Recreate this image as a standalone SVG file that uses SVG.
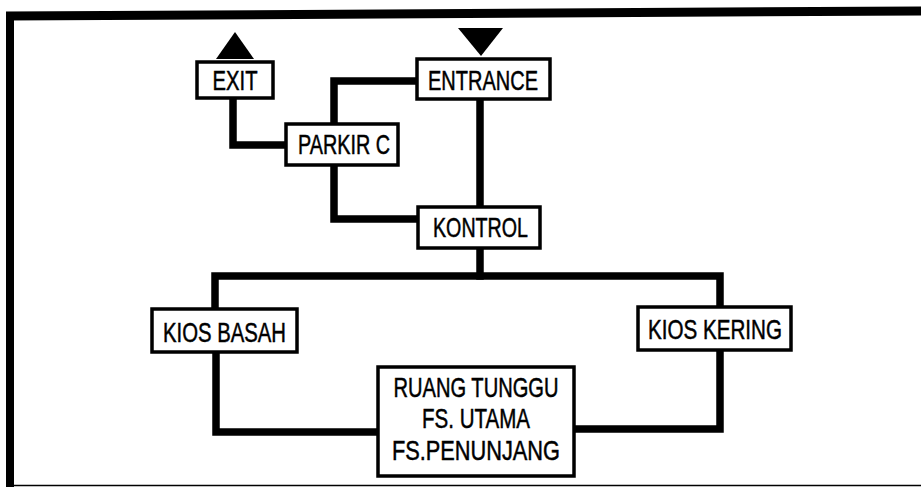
<svg xmlns="http://www.w3.org/2000/svg" width="921" height="487" viewBox="0 0 921 487">
<style>
.box{fill:#fff;stroke:#000;stroke-width:3.5}
.t{font-family:"Liberation Sans",Arial,sans-serif;font-size:28px;fill:#000;stroke:#000;stroke-width:0.5;text-anchor:middle}
.c{fill:none;stroke:#000;stroke-width:7.5;stroke-linejoin:miter;stroke-linecap:square}
.frame{fill:none;stroke:#000}
</style>
<rect x="0" y="0" width="921" height="487" fill="#fff"/>
<g id="frame">
<path class="frame" d="M6,16 L921,11" stroke-width="9"/>
<path class="frame" d="M10,12 V487" stroke-width="8"/>
<path class="frame" d="M14,485.5 H921" stroke-width="1.5" stroke="#888"/>
</g>
<g id="connectors">
<path class="c" d="M233,98 V145 H286"/>
<path class="c" d="M417,81 H334 V124" stroke-width="6"/>
<path class="c" d="M334,165 V219 H418"/>
<path class="c" d="M480,99 V207"/>
<path class="c" d="M480,248 V276"/>
<path class="c" d="M215,309 V276 H720 V307"/>
<path class="c" d="M216,352 V432 H378"/>
<path class="c" d="M720,350 V429 H574"/>
</g>
<g id="exit">
<polygon points="216,59 235,32 254,59" fill="#000"/>
<rect class="box" x="197" y="62" width="76" height="36"/>
<text class="t" x="235" y="90" textLength="45" lengthAdjust="spacingAndGlyphs">EXIT</text>
</g>
<g id="entrance">
<polygon points="458,28 503,28 481,56" fill="#000"/>
<rect class="box" x="417" y="59" width="133" height="40"/>
<text class="t" x="483" y="90" textLength="110" lengthAdjust="spacingAndGlyphs">ENTRANCE</text>
</g>
<g id="parkir-c">
<rect class="box" x="286" y="124" width="112" height="41"/>
<text class="t" x="344" y="154" textLength="92" lengthAdjust="spacingAndGlyphs">PARKIR C</text>
</g>
<g id="kontrol">
<rect class="box" x="418" y="207" width="122" height="41"/>
<text class="t" x="480.5" y="237" textLength="95" lengthAdjust="spacingAndGlyphs">KONTROL</text>
</g>
<g id="kios-basah">
<rect class="box" x="152" y="309" width="145" height="43"/>
<text class="t" x="224.5" y="342" textLength="123" lengthAdjust="spacingAndGlyphs">KIOS BASAH</text>
</g>
<g id="kios-kering">
<rect class="box" x="638" y="307" width="153" height="43"/>
<text class="t" x="715" y="339" textLength="134" lengthAdjust="spacingAndGlyphs">KIOS KERING</text>
</g>
<g id="ruang-tunggu">
<rect class="box" x="378" y="367" width="196" height="109"/>
<text class="t" x="476" y="397" textLength="165" lengthAdjust="spacingAndGlyphs">RUANG TUNGGU</text>
<text class="t" x="476" y="428" textLength="108" lengthAdjust="spacingAndGlyphs">FS. UTAMA</text>
<text class="t" x="476" y="460" textLength="168" lengthAdjust="spacingAndGlyphs">FS.PENUNJANG</text>
</g>
</svg>
